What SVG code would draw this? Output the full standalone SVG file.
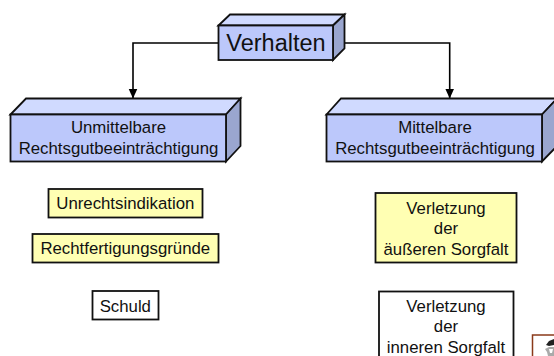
<svg xmlns="http://www.w3.org/2000/svg" width="554" height="356" viewBox="0 0 554 356">
<style>
text{font-family:"Liberation Sans",Arial,sans-serif;font-size:16.8px;fill:#111;text-anchor:middle}
.s{stroke:#111;stroke-width:1.8;stroke-linejoin:miter}
.f{fill:#bcc8fb}.t{fill:#d0daff}.r{fill:#9aa6cf}
.y{fill:#ffffb3}.w{fill:#fff}
.c{fill:none;stroke:#000;stroke-width:1.6}
</style>
<defs>
<marker id="a" markerUnits="userSpaceOnUse" markerWidth="10" markerHeight="10" refX="9.500" refY="4.500" orient="auto"><path d="M0 0L10 4.500L0 9Z" fill="#000"/></marker>
</defs>
<rect width="554" height="356" fill="#fff"/>
<g id="connectors">
<path class="c" d="M218 43H133V98" marker-end="url(#a)"/>
<path class="c" d="M345 43H449.700V98" marker-end="url(#a)"/>
</g>
<g id="verhalten">
<path class="s t" d="M218.500 25.500L230 14.500H344.500L333 25.500Z"/>
<path class="s r" d="M333 25.500L344.500 14.500V48.500L333 60Z"/>
<rect class="s f" x="218.500" y="25.500" width="114.500" height="34.500"/>
<text x="276" y="51" style="font-size:23.500px">Verhalten</text>
</g>
<g id="unmittelbare">
<path class="s t" d="M10.500 114.500L26 98.500H240.500L226 114.500Z"/>
<path class="s r" d="M226 114.500L240.500 98.500V146L226 161.500Z"/>
<rect class="s f" x="10.500" y="114.500" width="215.500" height="47"/>
<text x="118.500" y="133">Unmittelbare</text>
<text x="118.500" y="153.500">Rechtsgutbeeinträchtigung</text>
</g>
<g id="mittelbare">
<path class="s t" d="M326.500 114.500L341 98.500H557L542 114.500Z"/>
<path class="s r" d="M542 114.500L557 98.500V146L542 161.500Z"/>
<rect class="s f" x="326.500" y="114.500" width="215.500" height="47"/>
<text x="435" y="133">Mittelbare</text>
<text x="435" y="153.500">Rechtsgutbeeinträchtigung</text>
</g>
<g id="unrechtsindikation">
<rect class="s y" x="48.500" y="189" width="154" height="28.500"/>
<text x="125.300" y="209">Unrechtsindikation</text>
</g>
<g id="rechtfertigungsgruende">
<rect class="s y" x="32.500" y="234" width="186" height="28.500"/>
<text x="125.300" y="254">Rechtfertigungsgründe</text>
</g>
<g id="schuld">
<rect class="s w" x="92.500" y="291" width="66" height="28.500"/>
<text x="125.300" y="312">Schuld</text>
</g>
<g id="aeussere">
<rect class="s y" x="375.500" y="193" width="141" height="69.500"/>
<text x="446" y="214">Verletzung</text>
<text x="446" y="234">der</text>
<text x="446" y="254.500">äußeren Sorgfalt</text>
</g>
<g id="innere">
<rect class="s w" x="379" y="291.500" width="134.500" height="70"/>
<text x="446" y="312">Verletzung</text>
<text x="446" y="332">der</text>
<text x="446" y="353">inneren Sorgfalt</text>
</g>
<g id="bild">
<rect x="532.500" y="335" width="30" height="30" fill="#fff" stroke="#8a3a1a" stroke-width="1.500"/>
<path d="M546 345L549 341L554 339V345L549 346Z" fill="#222"/>
<path d="M545 349L549 347L554 347V356H548L547 352Z" fill="#aaa"/>
<path d="M549 349L553 349L552 353L550 353Z" fill="#fff"/>
</g>
</svg>
